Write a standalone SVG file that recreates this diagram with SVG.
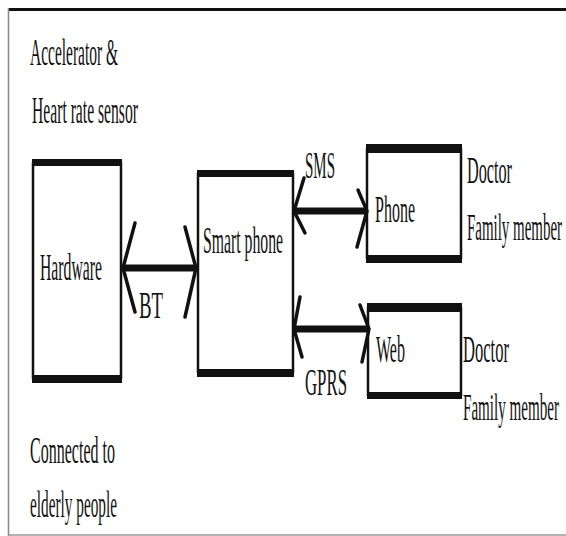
<svg xmlns="http://www.w3.org/2000/svg" width="566" height="536" viewBox="0 0 566 536">
<style>
  text { font-family: "Liberation Serif", "Times New Roman", serif; font-size: 38px; fill: #111; }
  .side { stroke: #111; stroke-width: 2.5; fill: none; }
  .bar { fill: #111; }
  .link { stroke: #111; stroke-width: 7; fill: none; }
  .head { stroke: #111; stroke-width: 3.5; fill: none; stroke-linecap: round; stroke-linejoin: miter; }
</style>
<rect width="566" height="536" fill="#fff"/>
<g id="frame">
  <line x1="8" y1="9.5" x2="566" y2="9.5" stroke="#111" stroke-width="3"/>
  <line x1="8.5" y1="8" x2="8.5" y2="536" stroke="#888" stroke-width="1.5"/>
  <line x1="8" y1="535" x2="566" y2="535" stroke="#999" stroke-width="1.5"/>
</g>
<g id="sensor-label">
  <text x="30" y="65" textLength="88" lengthAdjust="spacingAndGlyphs">Accelerator &amp;</text>
  <text x="32" y="123" textLength="106" lengthAdjust="spacingAndGlyphs">Heart rate sensor</text>
</g>
<g id="hardware">
  <line class="side" x1="33" y1="162" x2="33" y2="379"/>
  <line class="side" x1="121" y1="162" x2="121" y2="379"/>
  <rect class="bar" x="32" y="159" width="90" height="7"/>
  <rect class="bar" x="32" y="375" width="90" height="8"/>
  <text x="40" y="280" textLength="62" lengthAdjust="spacingAndGlyphs">Hardware</text>
</g>
<g id="smartphone">
  <line class="side" x1="198" y1="173" x2="198" y2="373"/>
  <line class="side" x1="293" y1="173" x2="293" y2="373"/>
  <rect class="bar" x="197" y="170" width="97" height="7"/>
  <rect class="bar" x="197" y="369" width="97" height="8"/>
  <text x="203" y="253" textLength="80" lengthAdjust="spacingAndGlyphs">Smart phone</text>
</g>
<g id="phone">
  <line class="side" x1="367" y1="148" x2="367" y2="259"/>
  <line class="side" x1="461" y1="148" x2="461" y2="259"/>
  <rect class="bar" x="366" y="144" width="96" height="9"/>
  <rect class="bar" x="366" y="255" width="96" height="8"/>
  <text x="375" y="222" textLength="40" lengthAdjust="spacingAndGlyphs">Phone</text>
</g>
<g id="web">
  <line class="side" x1="368" y1="307" x2="368" y2="396"/>
  <line class="side" x1="461" y1="307" x2="461" y2="396"/>
  <rect class="bar" x="367" y="303" width="95" height="9"/>
  <rect class="bar" x="367" y="392" width="95" height="7"/>
  <text x="376" y="362" textLength="29" lengthAdjust="spacingAndGlyphs">Web</text>
</g>
<g id="phone-users">
  <text x="467" y="183" textLength="45" lengthAdjust="spacingAndGlyphs">Doctor</text>
  <text x="467" y="240" textLength="95" lengthAdjust="spacingAndGlyphs">Family member</text>
</g>
<g id="web-users">
  <text x="463" y="362" textLength="46" lengthAdjust="spacingAndGlyphs">Doctor</text>
  <text x="463" y="420" textLength="96" lengthAdjust="spacingAndGlyphs">Family member</text>
</g>
<g id="elderly-label">
  <text x="30" y="463" textLength="85" lengthAdjust="spacingAndGlyphs">Connected to</text>
  <text x="30" y="517" textLength="87" lengthAdjust="spacingAndGlyphs">elderly people</text>
</g>
<g id="connectors">
  <line class="link" x1="123" y1="268" x2="196" y2="268"/>
  <polyline class="head" points="135,223 123,268 135,312"/>
  <polyline class="head" points="185,227 196,268 185,317"/>
  <text x="139" y="318" textLength="24" lengthAdjust="spacingAndGlyphs">BT</text>

  <line class="link" x1="294" y1="211" x2="367" y2="211"/>
  <polyline class="head" points="304,178 294,211 305,233"/>
  <polyline class="head" points="358,190 367,211 357,247"/>
  <text x="305" y="178" textLength="30" lengthAdjust="spacingAndGlyphs">SMS</text>

  <line class="link" x1="294" y1="329" x2="369" y2="329"/>
  <polyline class="head" points="300,297 294,329 302,357"/>
  <polyline class="head" points="360,305 369,329 362,362"/>
  <text x="305" y="395" textLength="42" lengthAdjust="spacingAndGlyphs">GPRS</text>
</g>
</svg>
